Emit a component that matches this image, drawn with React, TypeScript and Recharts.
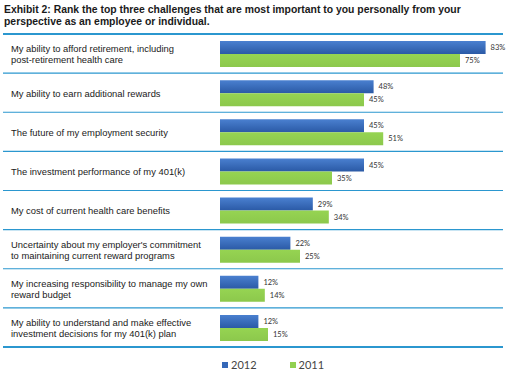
import React from 'react';
import { BarChart, Bar, XAxis, YAxis, LabelList } from 'recharts';

const categories = [
  'My ability to afford retirement, including\npost-retirement health care',
  'My ability to earn additional rewards',
  'The future of my employment security',
  'The investment performance of my 401(k)',
  'My cost of current health care benefits',
  "Uncertainty about my employer's commitment\nto maintaining current reward programs",
  'My increasing responsibility to manage my own\nreward budget',
  'My ability to understand and make effective\ninvestment decisions for my 401(k) plan',
];
const values2012 = [83, 48, 45, 45, 29, 22, 12, 12];
const values2011 = [75, 45, 51, 35, 34, 25, 14, 15];
const seriesNames = ['2012', '2011'];
const title1 = 'Exhibit 2: Rank the top three challenges that are most important to you personally from your';
const title2 = 'perspective as an employee or individual.';

const data = categories.map((c, i) => ({ cat: c, v2012: values2012[i], v2011: values2011[i] }));

const LINE = '#2B97CF';
const BLUE = '#3568B8';
const GREEN = '#92D050';

const CatTick = (props: any) => {
  const { y, payload, index } = props;
  const half = payload && payload.offset ? payload.offset : 19.5;
  const lines: string[] = String(payload.value).split('\n');
  const lh = 11;
  const startY = y - ((lines.length - 1) * lh) / 2;
  return (
    <g>
      {index === 0 && <line x1={3} x2={503} y1={y - half} y2={y - half} stroke={LINE} strokeWidth={2} />}
      <line x1={3} x2={503} y1={y + half} y2={y + half} stroke={LINE} strokeWidth={index === categories.length - 1 ? 2 : 1.2} />
      <text x={11} y={startY} fontSize={9.4} fontFamily="'Liberation Sans', Arial, sans-serif" fill="#1a1a1a" dominantBaseline="central">
        {lines.map((l, k) => (
          <tspan key={k} x={11} y={startY + k * lh} dominantBaseline="central">{l}</tspan>
        ))}
      </text>
    </g>
  );
};

export default function App() {
  return (
    <div style={{ position: 'absolute', left: 0, top: 0, width: 509, height: 375, background: '#fff' }}>
      <div style={{ position: 'absolute', left: 4, top: 4, fontFamily: "'Liberation Sans', Arial, sans-serif", fontWeight: 'bold', fontSize: 10.4, lineHeight: '12px', color: '#1a1a1a', whiteSpace: 'nowrap' }}>
        <div>{title1}</div>
        <div>{title2}</div>
      </div>
      <BarChart
        width={509}
        height={375}
        data={data}
        layout="vertical"
        margin={{ top: 34, right: 1, bottom: 28, left: 0 }}
        barCategoryGap={7}
        barGap={0}
      >
        <defs>
          <linearGradient id="blueGrad" x1="0" y1="0" x2="0" y2="1">
            <stop offset="0%" stopColor="#4A80D0" />
            <stop offset="100%" stopColor="#2B5AA6" />
          </linearGradient>
          <linearGradient id="greenGrad" x1="0" y1="0" x2="0" y2="1">
            <stop offset="0%" stopColor="#96D452" />
            <stop offset="100%" stopColor="#8CC84C" />
          </linearGradient>
        </defs>
        <XAxis type="number" domain={[0, 90]} hide />
        <YAxis type="category" dataKey="cat" width={220} axisLine={false} tickLine={false} tick={<CatTick />} interval={0} />
        <Bar dataKey="v2012" name={seriesNames[0]} fill="url(#blueGrad)" isAnimationActive={false}>
          <LabelList dataKey="v2012" position="right" offset={5} formatter={(v: any) => `${v}%`} style={{ fontSize: 7.5, fill: '#333', fontFamily: "Lato, sans-serif" }} />
        </Bar>
        <Bar dataKey="v2011" name={seriesNames[1]} fill="url(#greenGrad)" isAnimationActive={false}>
          <LabelList dataKey="v2011" position="right" offset={5} formatter={(v: any) => `${v}%`} style={{ fontSize: 7.5, fill: '#333', fontFamily: "Lato, sans-serif" }} />
        </Bar>
      </BarChart>
      <div style={{ position: 'absolute', left: 222, top: 358, display: 'flex', fontFamily: "Lato, 'Open Sans', sans-serif", fontSize: 11, color: '#444' }}>
        {seriesNames.map((n, i) => (
          <div key={n} style={{ display: 'flex', alignItems: 'center', marginRight: 33 }}>
            <span style={{ width: 6, height: 6, background: i === 0 ? BLUE : GREEN, display: 'inline-block', marginRight: 3 }} />
            <span>{n}</span>
          </div>
        ))}
      </div>
    </div>
  );
}
